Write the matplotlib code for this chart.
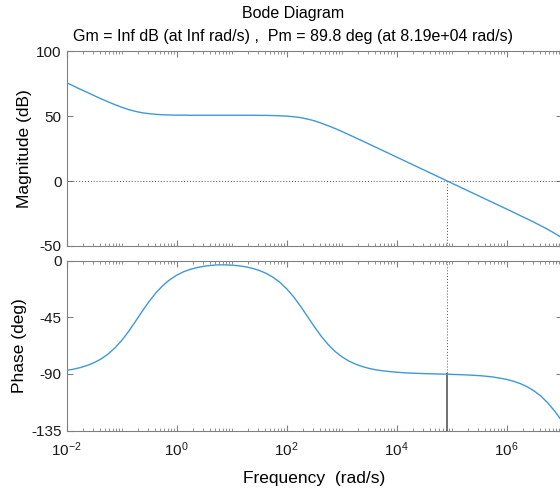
import matplotlib
matplotlib.use("Agg")
import matplotlib.pyplot as plt
import numpy as np
from matplotlib.ticker import FixedLocator, LogLocator, LogFormatterSciNotation, NullFormatter

plt.rcParams["font.family"] = ["Liberation Sans", "DejaVu Sans"]
plt.rcParams["mathtext.fontset"] = "custom"
plt.rcParams["mathtext.rm"] = "Liberation Sans"
plt.rcParams["axes.unicode_minus"] = False

# frequency samples as powers of ten (rad/s), 1/8 decade apart
freq_exp = [-2.0, -1.875, -1.75, -1.625, -1.5, -1.375, -1.25, -1.125,
            -1.0, -0.875, -0.75, -0.625, -0.5, -0.375, -0.25, -0.125,
            0.0, 0.125, 0.25, 0.375, 0.5, 0.625, 0.75, 0.875,
            1.0, 1.125, 1.25, 1.375, 1.5, 1.625, 1.75, 1.875,
            2.0, 2.125, 2.25, 2.375, 2.5, 2.625, 2.75, 2.875,
            3.0, 3.125, 3.25, 3.375, 3.5, 3.625, 3.75, 3.875,
            4.0, 4.125, 4.25, 4.375, 4.5, 4.625, 4.75, 4.875,
            5.0, 5.125, 5.25, 5.375, 5.5, 5.625, 5.75, 5.875,
            6.0, 6.125, 6.25, 6.375, 6.5, 6.625, 6.75, 6.875, 7.0]
mag_db = [75.6, 73.1, 70.6, 68.2, 65.7, 63.3, 61.0, 58.8,
          56.8, 55.0, 53.6, 52.5, 51.8, 51.3, 51.0, 50.8,
          50.7, 50.7, 50.6, 50.6, 50.6, 50.6, 50.6, 50.6,
          50.6, 50.6, 50.6, 50.6, 50.5, 50.5, 50.4, 50.2,
          49.9, 49.5, 48.8, 47.7, 46.4, 44.6, 42.6, 40.5,
          38.2, 35.8, 33.3, 30.9, 28.4, 25.9, 23.4, 20.9,
          18.4, 15.9, 13.4, 10.9, 8.4, 5.9, 3.4, 0.9,
          -1.6, -4.1, -6.6, -9.1, -11.6, -14.1, -16.6, -19.1,
          -21.6, -24.1, -26.7, -29.2, -31.8, -34.5, -37.3, -40.3, -43.6]
phase_deg = [-87.1, -86.2, -84.9, -83.2, -81.0, -78.1, -74.3, -69.4,
             -63.4, -56.3, -48.3, -40.1, -32.3, -25.4, -19.7, -15.1,
             -11.5, -8.8, -6.8, -5.4, -4.4, -3.7, -3.3, -3.3,
             -3.5, -4.0, -4.8, -6.0, -7.7, -10.0, -13.1, -17.1,
             -22.3, -28.6, -36.0, -44.1, -52.2, -59.8, -66.4, -71.9,
             -76.2, -79.6, -82.1, -84.1, -85.6, -86.7, -87.5, -88.1,
             -88.6, -89.0, -89.3, -89.5, -89.7, -89.85, -90.0, -90.1,
             -90.3, -90.5, -90.7, -91.0, -91.3, -91.8, -92.4, -93.3,
             -94.3, -95.8, -97.7, -100.2, -103.5, -107.7, -113.1, -119.6, -127.2]

# axis ticks
freq_ticks = [1e-2, 1e0, 1e2, 1e4, 1e6]
mag_ticks = [-50, 0, 50, 100]
phase_ticks = [-135, -90, -45, 0]

# stability margins
gm_text = "Inf"
pm = 89.8
wc = 8.19e4
phase_at_wc = -180 + pm

freq = 10.0 ** np.array(freq_exp)
line_color = "#3f98da"
axis_color = "#808080"
margin_color = "#505050"

fig = plt.figure(figsize=(5.6, 4.91), dpi=100)
ax_mag = fig.add_axes([0.119, 0.499, 0.884, 0.397])
ax_ph = fig.add_axes([0.119, 0.123, 0.884, 0.346])

ax_mag.semilogx(freq, mag_db, color=line_color, lw=1.0, zorder=3)
ax_ph.semilogx(freq, phase_deg, color=line_color, lw=1.0, zorder=3)

# gain crossover markers
ax_mag.axhline(0, color=margin_color, lw=0.7, ls=(0, (1, 2)), zorder=2)
ax_mag.plot([wc, wc], [-50, 0], color=margin_color, lw=0.7, ls=(0, (1, 2)), zorder=2)
ax_ph.plot([wc, wc], [0, phase_at_wc], color=margin_color, lw=0.7, ls=(0, (1, 2)), zorder=2)
ax_ph.plot([wc, wc], [-135, phase_at_wc], color="#707070", lw=1.4, zorder=2)

for ax, ylim, yticks in [(ax_mag, (-50, 100), mag_ticks),
                         (ax_ph, (-135, 0), phase_ticks)]:
    ax.set_xlim(1e-2, 1e7)
    ax.set_ylim(*ylim)
    ax.yaxis.set_major_locator(FixedLocator(yticks))
    ax.xaxis.set_major_locator(FixedLocator(freq_ticks))
    ax.xaxis.set_major_formatter(LogFormatterSciNotation())
    ax.xaxis.set_minor_locator(LogLocator(base=10.0, subs=np.arange(1, 10), numticks=20))
    ax.xaxis.set_minor_formatter(NullFormatter())
    ax.tick_params(which="both", direction="in", top=True, right=True,
                   color=axis_color, labelsize=11, labelcolor="#1a1a1a")
    ax.tick_params(which="major", length=4, width=0.8)
    ax.tick_params(which="minor", length=2, width=0.6)
    ax.tick_params(axis="x", which="major", pad=7)
    for spine in ax.spines.values():
        spine.set_color(axis_color)
        spine.set_linewidth(0.8)

ax_mag.tick_params(labelbottom=False)
ax_mag.set_ylabel("Magnitude (dB)", fontsize=12.5, labelpad=3)
ax_ph.set_ylabel("Phase (deg)", fontsize=12.5, labelpad=3)
ax_ph.set_xlabel("Frequency  (rad/s)", fontsize=12.5, labelpad=9)

fig.text(0.524, 0.972, "Bode Diagram", ha="center", va="center", fontsize=11.5)
fig.text(0.524, 0.925,
         f"Gm = {gm_text} dB (at Inf rad/s) ,  Pm = {pm} deg (at {wc:.2e} rad/s)",
         ha="center", va="center", fontsize=11.5)

fig.savefig("out.png", dpi=100)
